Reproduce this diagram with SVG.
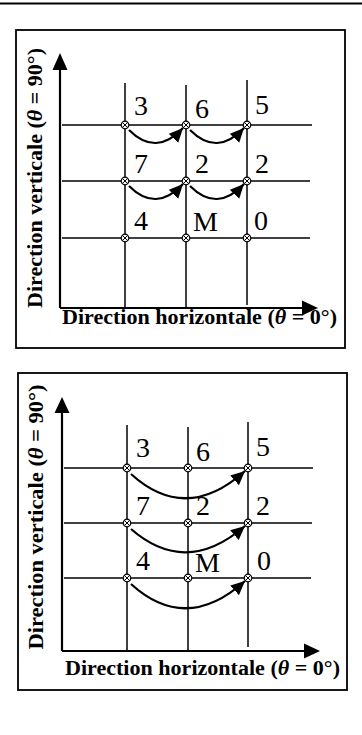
<svg xmlns="http://www.w3.org/2000/svg" width="362" height="735" viewBox="0 0 362 735">
<style>
.frame{fill:none;stroke:#000;stroke-width:1.8}
.axis{stroke:#000;stroke-width:2.2;fill:none}
.grid{stroke:#000;stroke-width:1.5;fill:none}
.curve{stroke:#000;stroke-width:2.2;fill:none;marker-end:url(#head)}
.lbl{font-family:"Liberation Serif","Times New Roman",serif;font-size:28px;fill:#000}
.ax{font-family:"Liberation Serif","Times New Roman",serif;font-size:20px;font-weight:bold;fill:#000}
.th{font-style:italic}
</style>
<defs>
<marker id="head" markerUnits="userSpaceOnUse" markerWidth="16" markerHeight="14" refX="14" refY="6.5" orient="auto">
<path d="M0,0 L14,6.5 L0,13 z" fill="#000"/>
</marker>
<g id="node">
<circle r="3.8" fill="#fff" stroke="#000" stroke-width="1.2"/>
<path d="M-2.3,-2.3 L2.3,2.3 M-2.3,2.3 L2.3,-2.3" stroke="#000" stroke-width="1"/>
</g>
</defs>
<rect x="0" y="2.5" width="362" height="2" fill="#000"/>

<!-- Diagram 1 -->
<g id="diagram1">
<rect class="frame" x="16" y="30" width="329" height="318"/>
<g id="axes1">
<line class="axis" x1="60" y1="308" x2="60" y2="68"/>
<polygon points="60,53 52.5,70 67.5,70" fill="#000"/>
<line class="axis" x1="60" y1="308" x2="304" y2="308"/>
<polygon points="318,308 302,300.5 302,315.5" fill="#000"/>
<text class="ax" transform="translate(42,178) rotate(-90)" text-anchor="middle" textLength="260" lengthAdjust="spacingAndGlyphs">Direction verticale (<tspan class="th">θ</tspan> = 90°)</text>
<text class="ax" x="199.5" y="324" text-anchor="middle" textLength="275" lengthAdjust="spacingAndGlyphs">Direction horizontale (<tspan class="th">θ</tspan> = 0°)</text>
</g>
<g id="grid1">
<line class="grid" x1="125" y1="83" x2="125" y2="308"/>
<line class="grid" x1="186" y1="85" x2="186" y2="308"/>
<line class="grid" x1="247" y1="80" x2="247" y2="305"/>
<line class="grid" x1="62" y1="125" x2="312" y2="125"/>
<line class="grid" x1="62" y1="181" x2="310" y2="181"/>
<line class="grid" x1="62" y1="238" x2="310" y2="238"/>
</g>
<g id="connectors1">
<path class="curve" d="M129,130 Q156,157 183,128"/>
<path class="curve" d="M190,130 Q217,157 244,128"/>
<path class="curve" d="M129,186 Q156,213 183,184"/>
<path class="curve" d="M190,186 Q217,213 244,184"/>
</g>
<g id="nodes1">
<use href="#node" x="125" y="125"/><use href="#node" x="186" y="125"/><use href="#node" x="247" y="125"/>
<use href="#node" x="125" y="181"/><use href="#node" x="186" y="181"/><use href="#node" x="247" y="181"/>
<use href="#node" x="125" y="238"/><use href="#node" x="186" y="238"/><use href="#node" x="247" y="238"/>
</g>
<g id="labels1">
<text class="lbl" x="134" y="115">3</text>
<text class="lbl" x="195" y="118">6</text>
<text class="lbl" x="255" y="114">5</text>
<text class="lbl" x="134" y="173">7</text>
<text class="lbl" x="195" y="173">2</text>
<text class="lbl" x="255" y="173">2</text>
<text class="lbl" x="134" y="230">4</text>
<text class="lbl" x="193" y="231">M</text>
<text class="lbl" x="254" y="230">0</text>
</g>
</g>

<!-- Diagram 2 -->
<g id="diagram2">
<rect class="frame" x="18" y="373" width="329" height="317"/>
<g id="axes2">
<line class="axis" x1="62" y1="651" x2="62" y2="412"/>
<polygon points="62,397 54.5,413 69.5,413" fill="#000"/>
<line class="axis" x1="62" y1="651" x2="306" y2="651"/>
<polygon points="320,651 304,643.5 304,658.5" fill="#000"/>
<text class="ax" transform="translate(43,517) rotate(-90)" text-anchor="middle" textLength="265" lengthAdjust="spacingAndGlyphs">Direction verticale (<tspan class="th">θ</tspan> = 90°)</text>
<text class="ax" x="202.5" y="675" text-anchor="middle" textLength="275" lengthAdjust="spacingAndGlyphs">Direction horizontale (<tspan class="th">θ</tspan> = 0°)</text>
</g>
<g id="grid2">
<line class="grid" x1="127" y1="425" x2="127" y2="651"/>
<line class="grid" x1="188" y1="427" x2="188" y2="651"/>
<line class="grid" x1="248" y1="422" x2="248" y2="647"/>
<line class="grid" x1="64" y1="468" x2="313" y2="468"/>
<line class="grid" x1="64" y1="523" x2="312" y2="523"/>
<line class="grid" x1="64" y1="578" x2="311" y2="578"/>
</g>
<g id="connectors2">
<path class="curve" d="M131,474 Q186,524 245,471"/>
<path class="curve" d="M131,529 Q186,577 245,526"/>
<path class="curve" d="M131,584 Q186,634 245,581"/>
</g>
<g id="nodes2">
<use href="#node" x="127" y="468"/><use href="#node" x="188" y="468"/><use href="#node" x="248" y="468"/>
<use href="#node" x="127" y="523"/><use href="#node" x="188" y="523"/><use href="#node" x="248" y="523"/>
<use href="#node" x="127" y="578"/><use href="#node" x="188" y="578"/><use href="#node" x="248" y="578"/>
</g>
<g id="labels2">
<text class="lbl" x="136" y="457">3</text>
<text class="lbl" x="196" y="461">6</text>
<text class="lbl" x="256" y="456">5</text>
<text class="lbl" x="136" y="515">7</text>
<text class="lbl" x="196" y="515">2</text>
<text class="lbl" x="256" y="515">2</text>
<text class="lbl" x="136" y="570">4</text>
<text class="lbl" x="195" y="572">M</text>
<text class="lbl" x="257" y="570">0</text>
</g>
</g>
</svg>
